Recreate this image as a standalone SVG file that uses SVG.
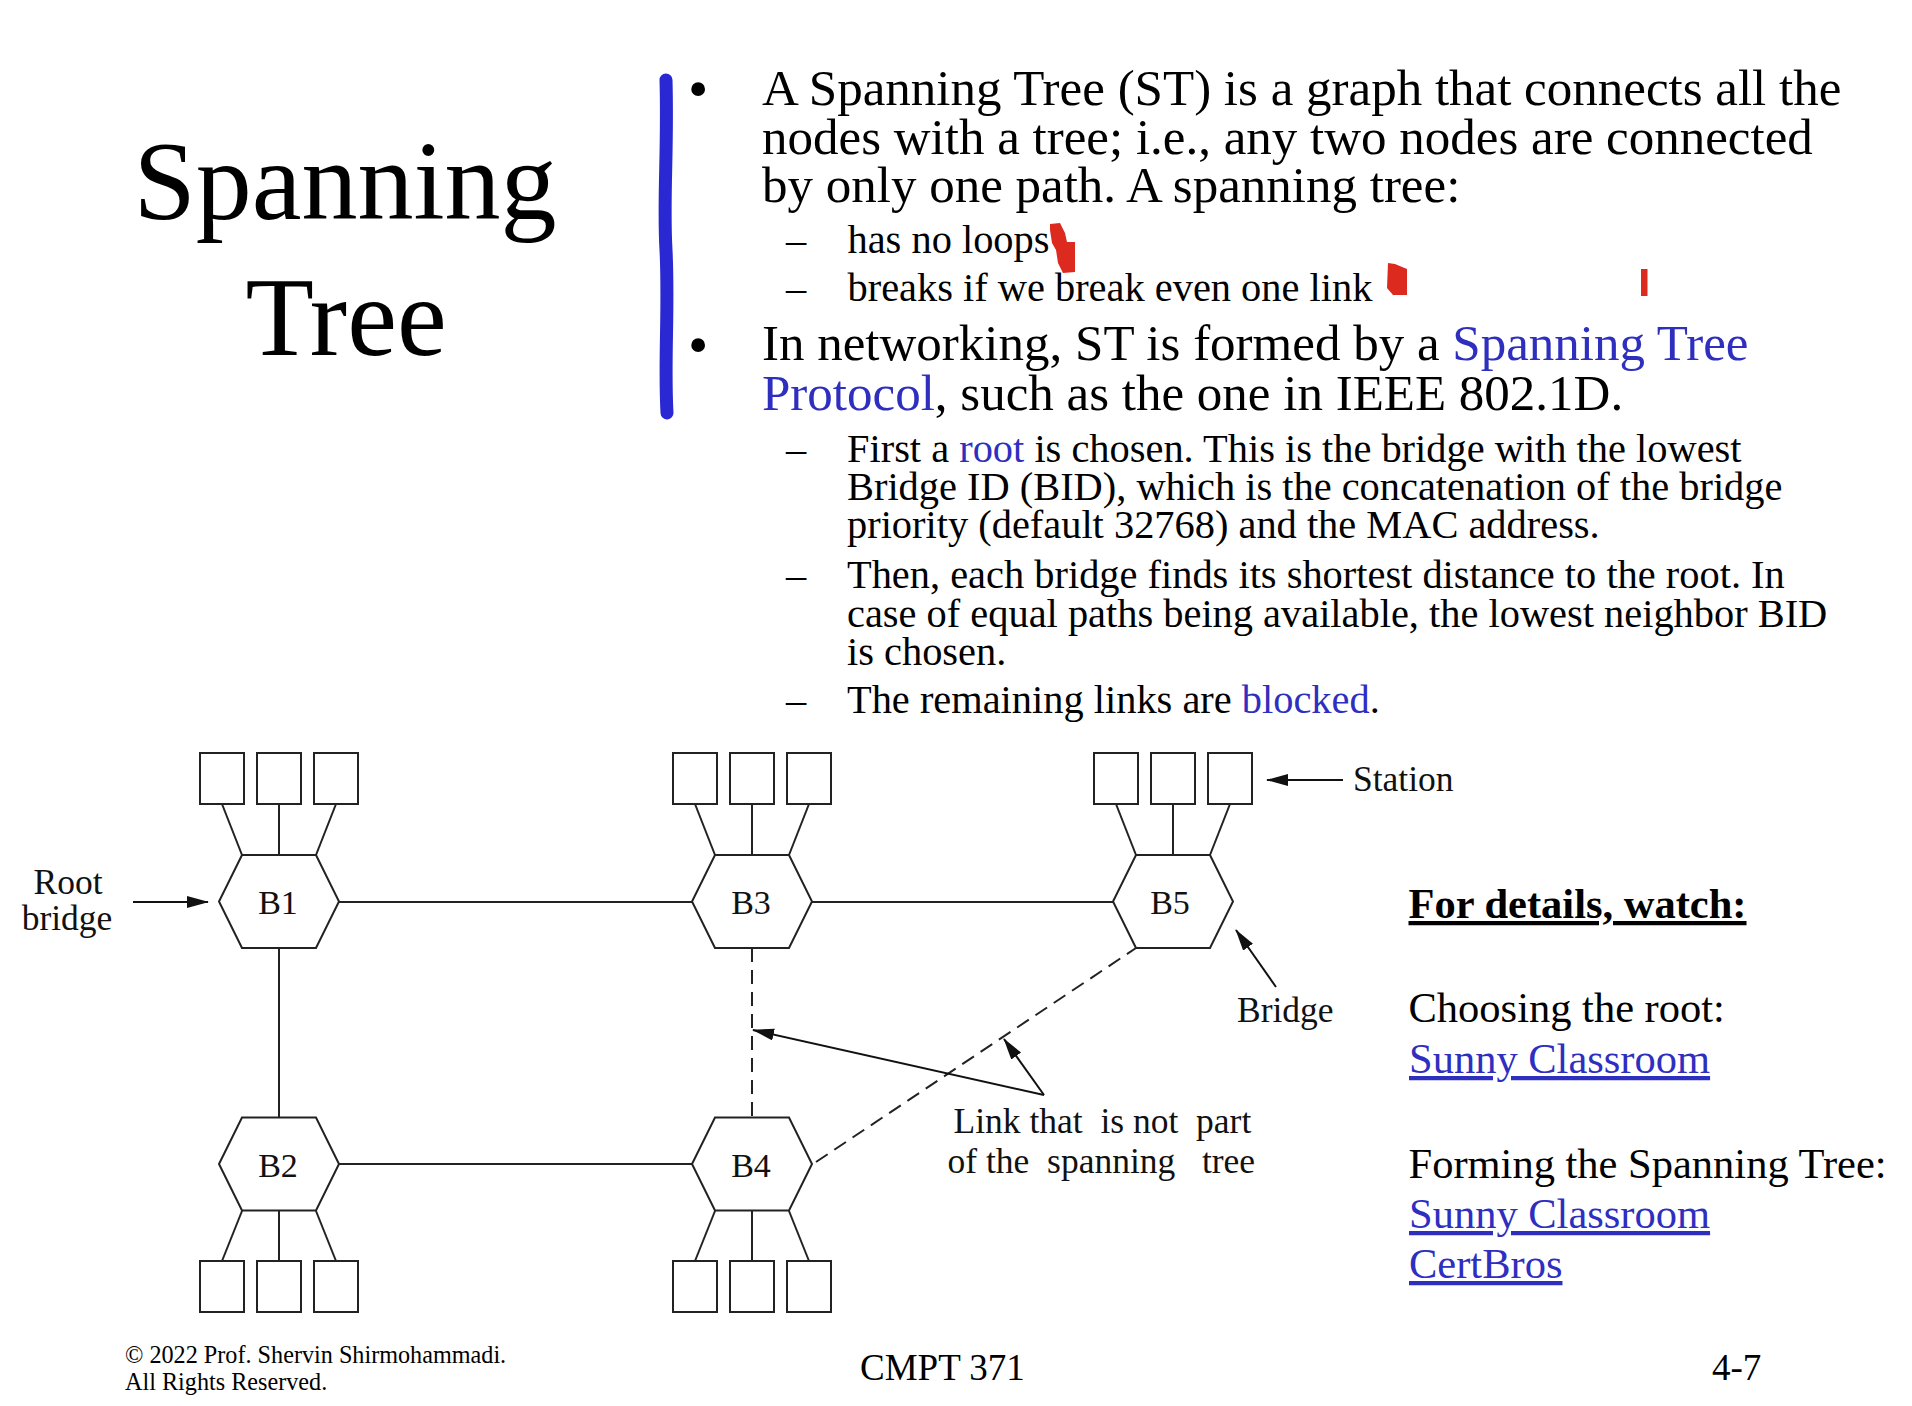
<svg xmlns="http://www.w3.org/2000/svg" width="1912" height="1406" viewBox="0 0 1912 1406">
  <style>
    .serif { font-family: "Liberation Serif", "Times New Roman", serif; fill: #000; }
    .title { font-size: 112px; }
    .main { font-size: 51px; }
    .sub { font-size: 40.4px; }
    .dot { font-size: 58px; }
    .blue { fill: #2f2fbf; }
    .lbl { font-size: 35.5px; fill: #111; }
    .blbl { font-size: 34px; fill: #111; }
    .side { font-size: 42.5px; }
    .uline { text-decoration: underline; }
    .wire { stroke: #222; stroke-width: 2; fill: none; }
    .dash { stroke-dasharray: 14 8; }
    .hex { fill: #fff; stroke: #222; stroke-width: 2; }
    .sta { fill: #fff; stroke: #222; stroke-width: 2; }
    .arrow { stroke: #111; stroke-width: 2; fill: none; marker-end: url(#head); }
  </style>
  <defs>
    <marker id="head" markerUnits="userSpaceOnUse" markerWidth="22" markerHeight="14" refX="21" refY="6" orient="auto">
      <path d="M0,0 L22,6 L0,12 z" fill="#111"/>
    </marker>
    <polygon id="hexShape" points="-37,-46.5 37,-46.5 60,0 37,46.5 -37,46.5 -60,0"/>
  </defs>

  <rect width="1912" height="1406" fill="#fff"/>

  <!-- slide title -->
  <g id="title">
    <text class="serif title" x="345" y="219" text-anchor="middle">Spanning</text>
    <text class="serif title" x="346" y="355" text-anchor="middle">Tree</text>
  </g>

  <!-- hand-drawn ink marks -->
  <g id="ink">
    <path d="M666,80 C668,150 663,200 666,250 C669,310 664,360 667,413" stroke="#2a28d2" stroke-width="13" stroke-linecap="round" fill="none"/>
    <path d="M1050,224 L1060,223 L1065,233 L1067,242 L1075,242 L1075,272 L1063,273 L1058,263 L1056,250 L1052,243 L1050,230 z" fill="#dd2a1f"/>
    <path d="M1388,263 L1395,264 L1407,269 L1407,295 L1393,295 L1387,288 z" fill="#dd2a1f"/>
    <rect x="1641" y="269" width="6.5" height="27" fill="#dd2a1f"/>
  </g>

  <!-- bullet text -->
  <g id="bullets">
    <text class="serif dot" x="688" y="107.5">•</text>
    <text class="serif main" x="762" y="105">A Spanning Tree (ST) is a graph that connects all the</text>
    <text class="serif main" x="762" y="153.5">nodes with a tree; i.e., any two nodes are connected</text>
    <text class="serif main" x="762" y="202">by only one path. A spanning tree:</text>
    <text class="serif sub" x="786" y="253">–</text>
    <text class="serif sub" x="847.5" y="253">has no loops</text>
    <text class="serif sub" x="786" y="301">–</text>
    <text class="serif sub" x="847.5" y="301">breaks if we break even one link</text>

    <text class="serif dot" x="688" y="363.5">•</text>
    <text class="serif main" x="762" y="360">In networking, ST is formed by a <tspan class="blue">Spanning Tree</tspan></text>
    <text class="serif main" x="762" y="410"><tspan class="blue">Protocol</tspan>, such as the one in IEEE 802.1D.</text>

    <text class="serif sub" x="786" y="461.7">–</text>
    <text class="serif sub" x="847" y="461.7">First a <tspan class="blue">root</tspan> is chosen. This is the bridge with the lowest</text>
    <text class="serif sub" x="847" y="500">Bridge ID (BID), which is the concatenation of the bridge</text>
    <text class="serif sub" x="847" y="538.3">priority (default 32768) and the MAC address.</text>
    <text class="serif sub" x="786" y="588.3">–</text>
    <text class="serif sub" x="847" y="588.3">Then, each bridge finds its shortest distance to the root. In</text>
    <text class="serif sub" x="847" y="626.7">case of equal paths being available, the lowest neighbor BID</text>
    <text class="serif sub" x="847" y="665">is chosen.</text>
    <text class="serif sub" x="786" y="713.3">–</text>
    <text class="serif sub" x="847" y="713.3">The remaining links are <tspan class="blue">blocked</tspan>.</text>
  </g>

  <!-- links between bridges and station drops -->
  <g id="connectors">
    <line class="wire" x1="339" y1="902" x2="692" y2="902"/>
    <line class="wire" x1="812" y1="902" x2="1113" y2="902"/>
    <line class="wire" x1="279" y1="948" x2="279" y2="1117"/>
    <line class="wire" x1="339" y1="1164" x2="692" y2="1164"/>
    <line class="wire dash" x1="752" y1="948" x2="752" y2="1117"/>
    <line class="wire dash" x1="816" y1="1162" x2="1136" y2="948"/>

    <!-- station drops: B1 -->
    <line class="wire" x1="222" y1="804" x2="242" y2="855"/>
    <line class="wire" x1="279" y1="804" x2="279" y2="855"/>
    <line class="wire" x1="336" y1="804" x2="316" y2="855"/>
    <!-- B3 -->
    <line class="wire" x1="695" y1="804" x2="715" y2="855"/>
    <line class="wire" x1="752" y1="804" x2="752" y2="855"/>
    <line class="wire" x1="809" y1="804" x2="789" y2="855"/>
    <!-- B5 -->
    <line class="wire" x1="1116" y1="804" x2="1136" y2="855"/>
    <line class="wire" x1="1173" y1="804" x2="1173" y2="855"/>
    <line class="wire" x1="1230" y1="804" x2="1210" y2="855"/>
    <!-- B2 -->
    <line class="wire" x1="242" y1="1211" x2="222" y2="1261"/>
    <line class="wire" x1="279" y1="1211" x2="279" y2="1261"/>
    <line class="wire" x1="316" y1="1211" x2="336" y2="1261"/>
    <!-- B4 -->
    <line class="wire" x1="715" y1="1211" x2="695" y2="1261"/>
    <line class="wire" x1="752" y1="1211" x2="752" y2="1261"/>
    <line class="wire" x1="789" y1="1211" x2="809" y2="1261"/>

    <!-- annotation arrows -->
    <line class="arrow" x1="133" y1="902" x2="208" y2="902"/>
    <line class="arrow" x1="1343" y1="780" x2="1267" y2="780"/>
    <line class="arrow" x1="1276" y1="987" x2="1236" y2="930"/>
    <line class="arrow" x1="1044" y1="1095" x2="753" y2="1030"/>
    <line class="arrow" x1="1044" y1="1095" x2="1004" y2="1039"/>
  </g>

  <!-- bridges -->
  <g id="B1">
    <use href="#hexShape" class="hex" x="279" y="901.5"/>
    <text class="serif blbl" x="278" y="914" text-anchor="middle">B1</text>
  </g>
  <g id="B3">
    <use href="#hexShape" class="hex" x="752" y="901.5"/>
    <text class="serif blbl" x="751" y="914" text-anchor="middle">B3</text>
  </g>
  <g id="B5">
    <use href="#hexShape" class="hex" x="1173" y="901.5"/>
    <text class="serif blbl" x="1170" y="914" text-anchor="middle">B5</text>
  </g>
  <g id="B2">
    <use href="#hexShape" class="hex" x="279" y="1164"/>
    <text class="serif blbl" x="278" y="1176.5" text-anchor="middle">B2</text>
  </g>
  <g id="B4">
    <use href="#hexShape" class="hex" x="752" y="1164"/>
    <text class="serif blbl" x="751" y="1176.5" text-anchor="middle">B4</text>
  </g>

  <!-- stations -->
  <g id="stations-B1">
    <rect class="sta" x="200" y="753" width="44" height="51"/>
    <rect class="sta" x="257" y="753" width="44" height="51"/>
    <rect class="sta" x="314" y="753" width="44" height="51"/>
  </g>
  <g id="stations-B3">
    <rect class="sta" x="673" y="753" width="44" height="51"/>
    <rect class="sta" x="730" y="753" width="44" height="51"/>
    <rect class="sta" x="787" y="753" width="44" height="51"/>
  </g>
  <g id="stations-B5">
    <rect class="sta" x="1094" y="753" width="44" height="51"/>
    <rect class="sta" x="1151" y="753" width="44" height="51"/>
    <rect class="sta" x="1208" y="753" width="44" height="51"/>
  </g>
  <g id="stations-B2">
    <rect class="sta" x="200" y="1261" width="44" height="51"/>
    <rect class="sta" x="257" y="1261" width="44" height="51"/>
    <rect class="sta" x="314" y="1261" width="44" height="51"/>
  </g>
  <g id="stations-B4">
    <rect class="sta" x="673" y="1261" width="44" height="51"/>
    <rect class="sta" x="730" y="1261" width="44" height="51"/>
    <rect class="sta" x="787" y="1261" width="44" height="51"/>
  </g>

  <!-- diagram labels -->
  <g id="labels">
    <text class="serif lbl" x="68" y="894" text-anchor="middle">Root</text>
    <text class="serif lbl" x="67" y="930" text-anchor="middle">bridge</text>
    <text class="serif lbl" x="1353" y="791">Station</text>
    <text class="serif lbl" x="1237" y="1022">Bridge</text>
    <text class="serif lbl" x="953.5" y="1133" xml:space="preserve">Link that  is not  part</text>
    <text class="serif lbl" x="947.5" y="1173" xml:space="preserve">of the  spanning   tree</text>
  </g>

  <!-- further viewing -->
  <g id="details">
    <text class="serif side uline" x="1408.5" y="918" font-weight="bold">For details, watch:</text>
    <text class="serif side" x="1408.5" y="1021.5">Choosing the root:</text>
    <text class="serif side blue uline" x="1409" y="1073">Sunny Classroom</text>
    <text class="serif side" x="1408.5" y="1178">Forming the Spanning Tree:</text>
    <text class="serif side blue uline" x="1409" y="1228">Sunny Classroom</text>
    <text class="serif side blue uline" x="1409" y="1278">CertBros</text>
  </g>

  <!-- footer -->
  <g id="footer">
    <text class="serif" x="125" y="1363" font-size="24.2">© 2022 Prof. Shervin Shirmohammadi.</text>
    <text class="serif" x="125" y="1390" font-size="24.2">All Rights Reserved.</text>
    <text class="serif" x="860" y="1380" font-size="37">CMPT 371</text>
    <text class="serif" x="1712" y="1380" font-size="37">4-7</text>
  </g>
</svg>
